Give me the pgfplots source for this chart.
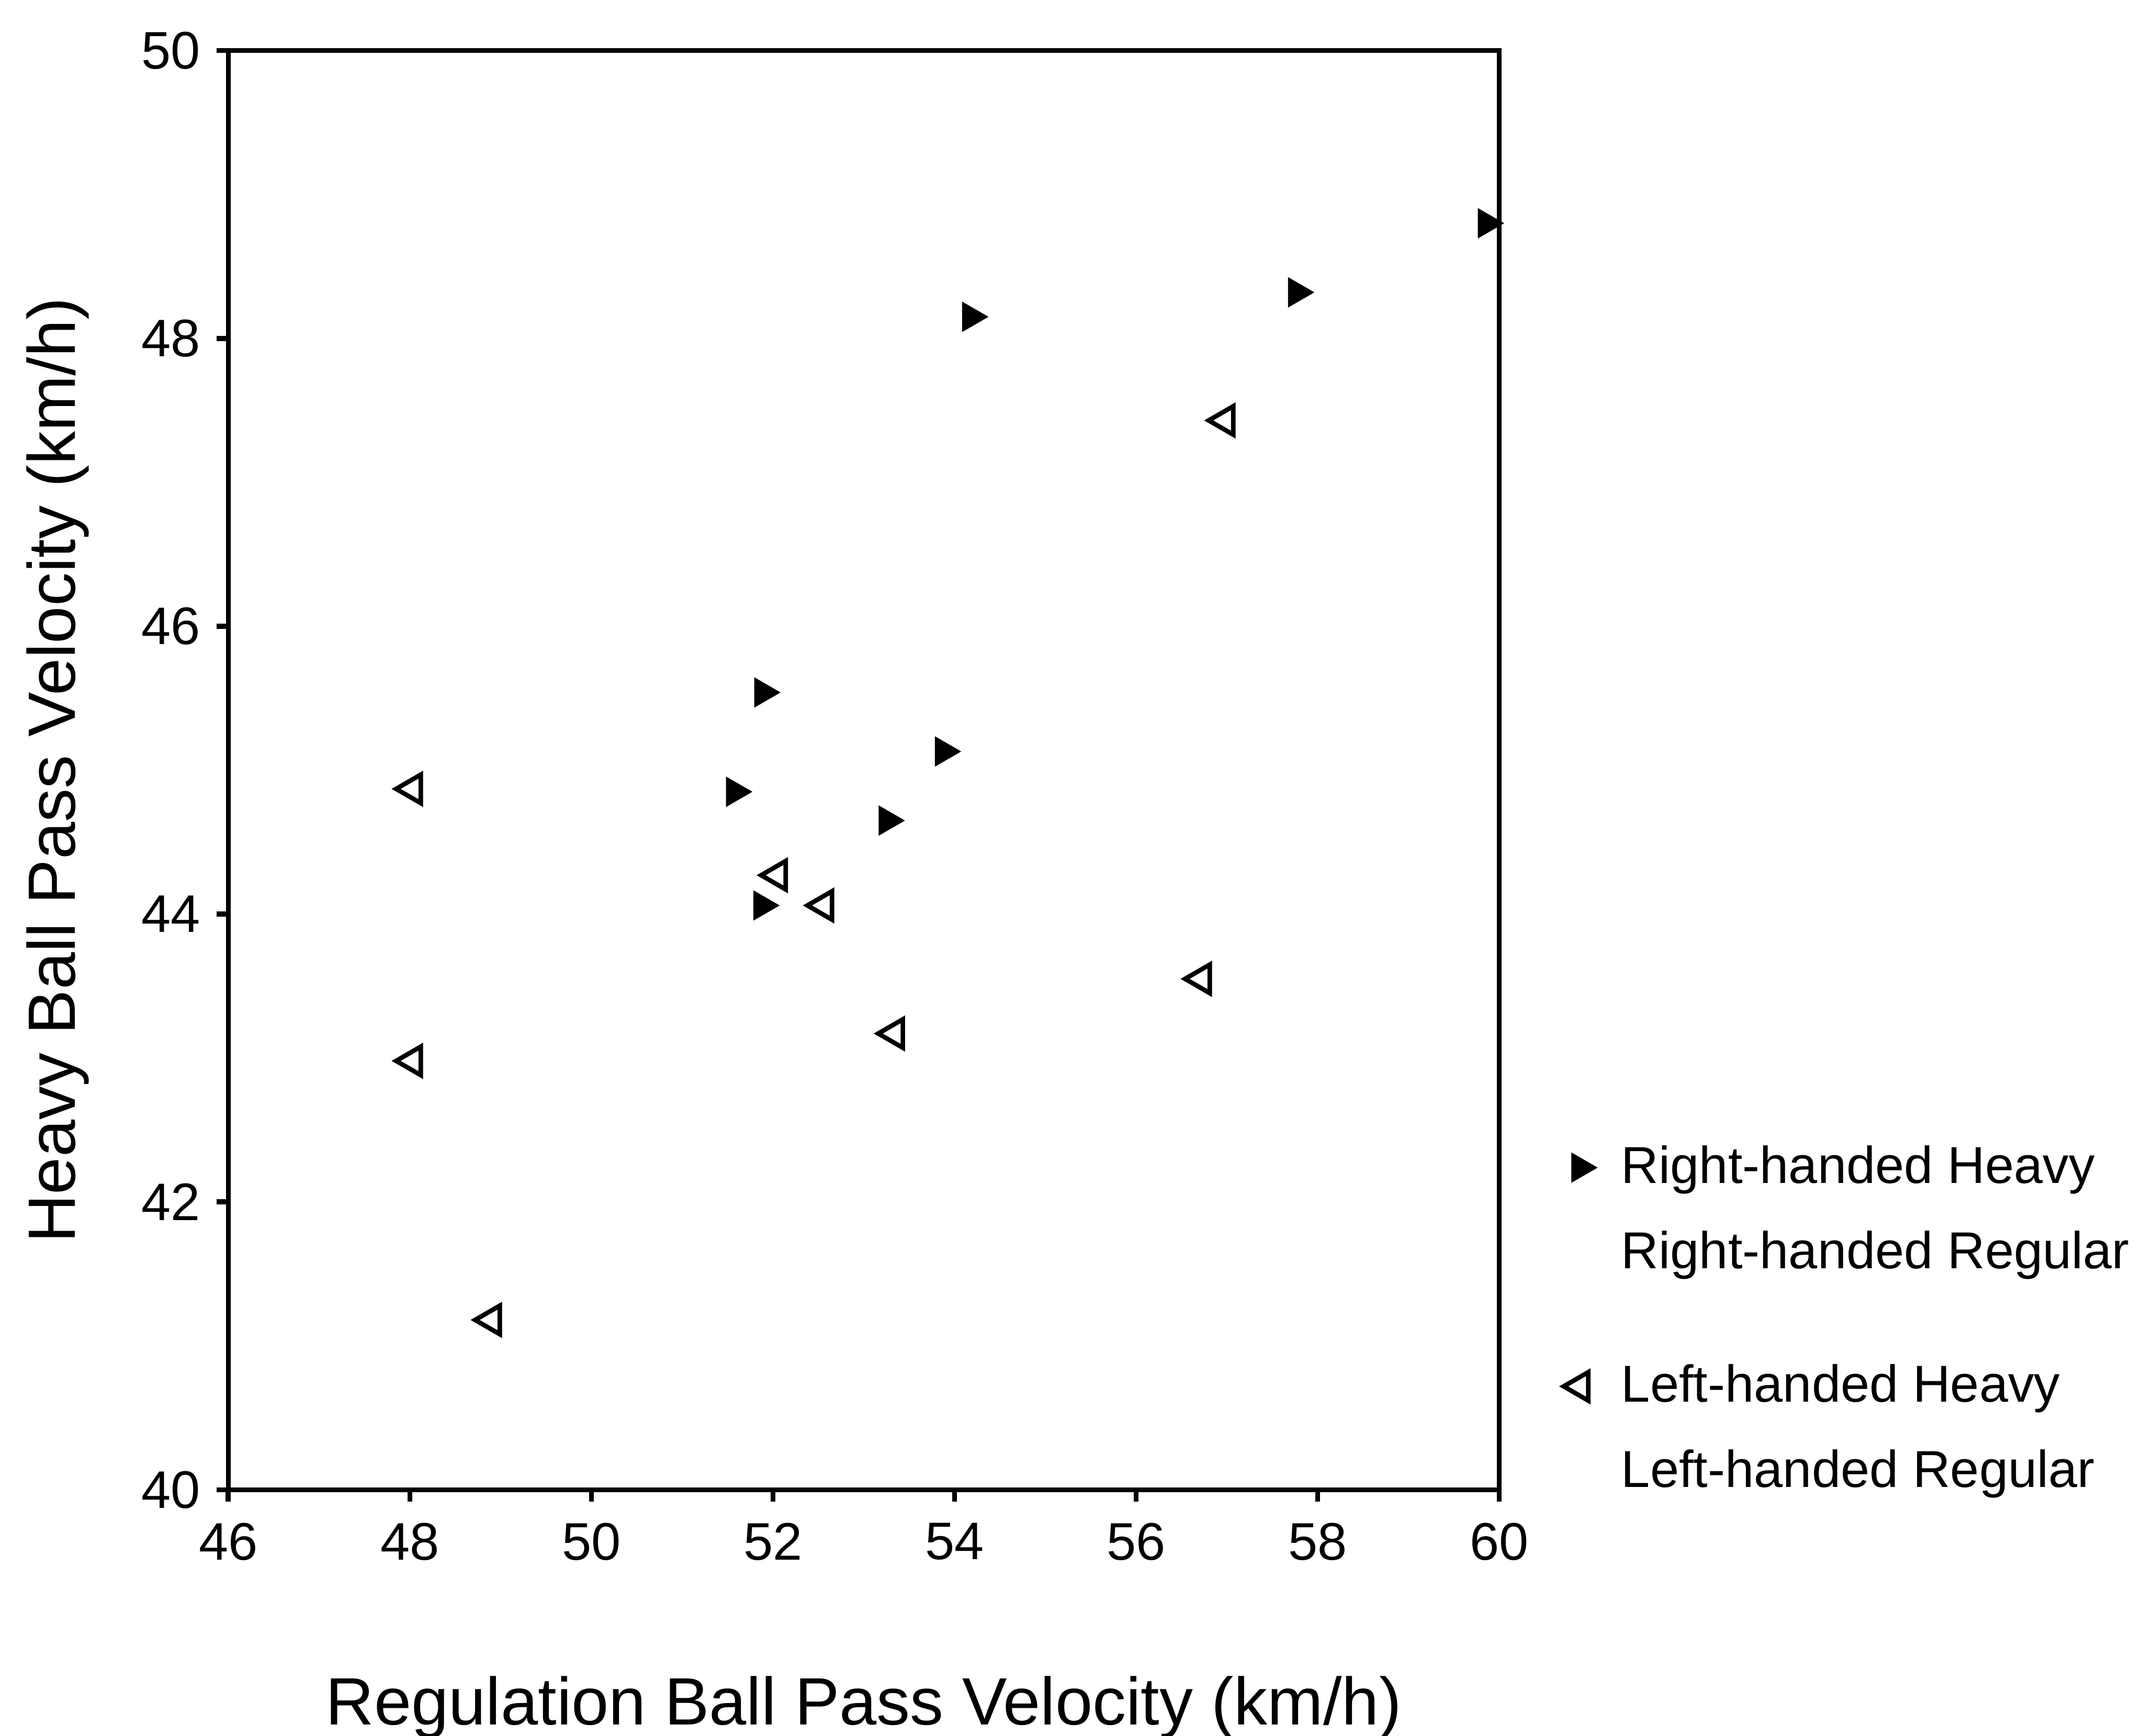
\documentclass[border=0pt]{standalone}
\usepackage{fontspec}
\setmainfont{Liberation Sans}
\usepackage{pgfplots}
\pgfplotsset{compat=1.18}
\begin{document}
\begin{tikzpicture}
\begin{axis}[
  at={(0,0)}, anchor=south west,
  scale only axis, width=279pt, height=315.9pt,
  xmin=46, xmax=60, ymin=40, ymax=50,
  xtick={46,48,...,60}, ytick={40,42,...,50},
  tick align=outside, xtick pos=left, ytick pos=left,
  major tick length=2.6pt,
  tick style={line width=1.1pt, black},
  axis line style={line width=1pt},
  /pgf/number format/assume math mode=true,
  ticklabel style={font=\fontsize{11.6}{13}\selectfont},
  xticklabel style={yshift=-1.2pt},
  label style={font=\fontsize{14.7}{17}\selectfont},
  xlabel={Regulation Ball Pass Velocity (km/h)},
  ylabel={Heavy Ball Pass Velocity (km/h)},
  xlabel style={at={(axis description cs:0.5,-0.1633)}, anchor=base},
  ylabel style={at={(axis description cs:-0.1204,0.5)}, anchor=base},
  legend style={draw=none, fill=none, font=\fontsize{11.4}{13.7}\selectfont,
    row sep=5pt, column sep=3.6pt,
    at={(axis description cs:1.0215,0.2526)}, anchor=north west},
  legend cell align=left,
]
\addplot[only marks, mark=triangle*, mark size=3.46pt,
  mark options={rotate=-90, fill=black, draw=black}] coordinates {
  (59.86,48.80) (57.77,48.32) (54.18,48.15) (51.89,45.54)
  (53.88,45.13) (51.58,44.85) (53.26,44.65) (51.88,44.06)
};
\addlegendentry{Right-handed Heavy}
\addlegendimage{empty legend}
\addlegendentry{Right-handed Regular}
\addlegendimage{empty legend}
\addlegendentry[font=\fontsize{2}{2}\selectfont, inner ysep=0pt]{\rule{0pt}{4pt}}
\addplot[only marks, mark=triangle, mark size=3.6pt,
  mark options={rotate=90, line width=1pt, draw=black}] coordinates {
  (56.98,47.43) (48.03,44.87) (52.05,44.27) (52.56,44.06)
  (56.72,43.55) (53.34,43.17) (48.03,42.98) (48.90,41.18)
};
\addlegendentry{Left-handed Heavy}
\addlegendimage{empty legend}
\addlegendentry{Left-handed Regular}
\end{axis}
\pgfresetboundingbox
\path[use as bounding box] (-50.1pt,-54pt) rectangle (420.3pt,327pt);
\end{tikzpicture}
\end{document}
